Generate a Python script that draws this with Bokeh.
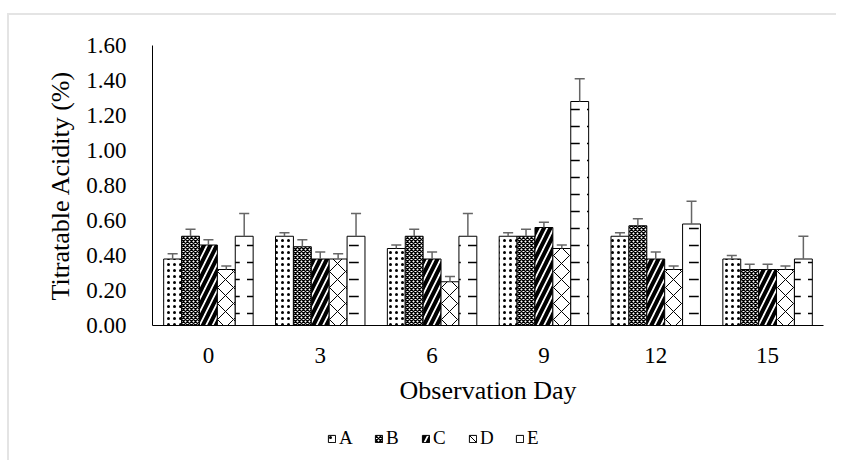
from bokeh.plotting import figure
from bokeh.layouts import column
from bokeh.models import (ColumnDataSource, FactorRange, Range1d, Legend, LegendItem,
                          NumeralTickFormatter, FixedTicker)
from bokeh.transform import dodge
from bokeh.embed import file_html
from bokeh.resources import INLINE

days = ["0", "3", "6", "9", "12", "15"]
series = ["A", "B", "C", "D", "E"]
A = [0.38, 0.51, 0.44, 0.51, 0.51, 0.38]
B = [0.51, 0.45, 0.51, 0.51, 0.57, 0.32]
C = [0.46, 0.38, 0.38, 0.56, 0.38, 0.32]
D = [0.32, 0.38, 0.25, 0.44, 0.32, 0.32]
E = [0.51, 0.51, 0.51, 1.28, 0.58, 0.38]
A_err = [0.03, 0.02, 0.02, 0.02, 0.02, 0.02]
B_err = [0.04, 0.04, 0.04, 0.04, 0.04, 0.03]
C_err = [0.03, 0.04, 0.04, 0.03, 0.04, 0.03]
D_err = [0.02, 0.03, 0.03, 0.02, 0.02, 0.02]
E_err = [0.13, 0.13, 0.13, 0.13, 0.13, 0.13]
y_ticks = [0.0, 0.2, 0.4, 0.6, 0.8, 1.0, 1.2, 1.4, 1.6]

values = {"A": A, "B": B, "C": C, "D": D, "E": E}
errors = {"A": A_err, "B": B_err, "C": C_err, "D": D_err, "E": E_err}

data = {"day": days}
for s in series:
    data[s] = values[s]
    data[s + "_hi"] = [v + e for v, e in zip(values[s], errors[s])]
source = ColumnDataSource(data)

FONT = "Liberation Serif"

p = figure(x_range=FactorRange(*days, range_padding=0), y_range=Range1d(0, 1.6),
           frame_width=671, frame_height=280, output_backend="svg", toolbar_location=None,
           min_border_left=143, min_border_right=13, min_border_top=30, min_border_bottom=95)
p.outline_line_color = None
p.xgrid.grid_line_color = None
p.ygrid.grid_line_color = None

hatches = {
    "A": dict(hatch_pattern="dot", hatch_scale=6, hatch_weight=1),
    "B": dict(hatch_pattern="diagonal_cross", hatch_scale=4, hatch_weight=1.4),
    "C": dict(hatch_pattern="right_diagonal_line", hatch_scale=13, hatch_weight=4),
    "D": dict(hatch_pattern="diagonal_cross", hatch_scale=16, hatch_weight=1),
    "E": dict(hatch_pattern="horizontal_dash", hatch_scale=17, hatch_weight=1.5),
}
bw = 0.16
offsets = [-2 * bw, -bw, 0, bw, 2 * bw]

# legend strip below the chart (its bars lie far outside its visible y range)
q = figure(width=827, height=40, output_backend="svg", toolbar_location=None,
           x_range=FactorRange(*days, range_padding=0), y_range=Range1d(100, 101),
           min_border_left=0, min_border_right=0, min_border_top=0, min_border_bottom=0)
q.axis.visible = False
q.grid.visible = False
q.outline_line_color = None

items = []
for s, off in zip(series, offsets):
    p.vbar(x=dodge("day", off, range=p.x_range), top=s, width=bw, source=source,
           fill_color="white", line_color="black", line_width=1,
           hatch_color="black", **hatches[s])
    p.segment(x0=dodge("day", off, range=p.x_range), x1=dodge("day", off, range=p.x_range),
              y0=s, y1=s + "_hi", source=source, line_color="#666666", line_width=1.5)
    p.segment(x0=dodge("day", off - 0.045, range=p.x_range),
              x1=dodge("day", off + 0.045, range=p.x_range),
              y0=s + "_hi", y1=s + "_hi", source=source, line_color="#666666", line_width=1.5)
    lr = q.vbar(x=dodge("day", off, range=q.x_range), top=s, width=bw, source=source,
                fill_color="white", line_color="black", line_width=1,
                hatch_color="black", **hatches[s])
    items.append(LegendItem(label=s, renderers=[lr]))

for ax in (p.xaxis[0], p.yaxis[0]):
    ax.axis_line_color = "black"
    ax.axis_line_width = 1
    ax.major_tick_line_color = None
    ax.minor_tick_line_color = None
    ax.major_label_text_font = FONT
    ax.major_label_text_font_size = "23px"
    ax.major_label_text_color = "black"
    ax.axis_label_text_font = FONT
    ax.axis_label_text_font_size = "26px"
    ax.axis_label_text_font_style = "normal"
    ax.axis_label_text_color = "black"

p.yaxis.ticker = FixedTicker(ticks=y_ticks)
p.yaxis.formatter = NumeralTickFormatter(format="0.00")
p.yaxis.axis_label = "Titratable Acidity (%)"
p.yaxis.major_label_standoff = 20
p.yaxis.axis_label_standoff = 8
p.xaxis.axis_label = "Observation Day"
p.xaxis.major_label_standoff = 16
p.xaxis.axis_label_standoff = 10

legend = Legend(items=items, orientation="horizontal", location=(175, 11),
                label_text_font=FONT, label_text_font_size="19px", label_text_color="black",
                glyph_width=9, glyph_height=9, label_standoff=3, label_width=20, spacing=15,
                border_line_color=None, background_fill_alpha=0, padding=0, margin=0)
q.add_layout(legend, "center")

layout = column(p, q, spacing=0)
layout.styles = {"border-top": "2px solid #e4e4e4", "border-left": "2px solid #e4e4e4",
                 "margin-top": "13px", "margin-left": "7px"}

open("out.html", "w").write(file_html(layout, INLINE))
